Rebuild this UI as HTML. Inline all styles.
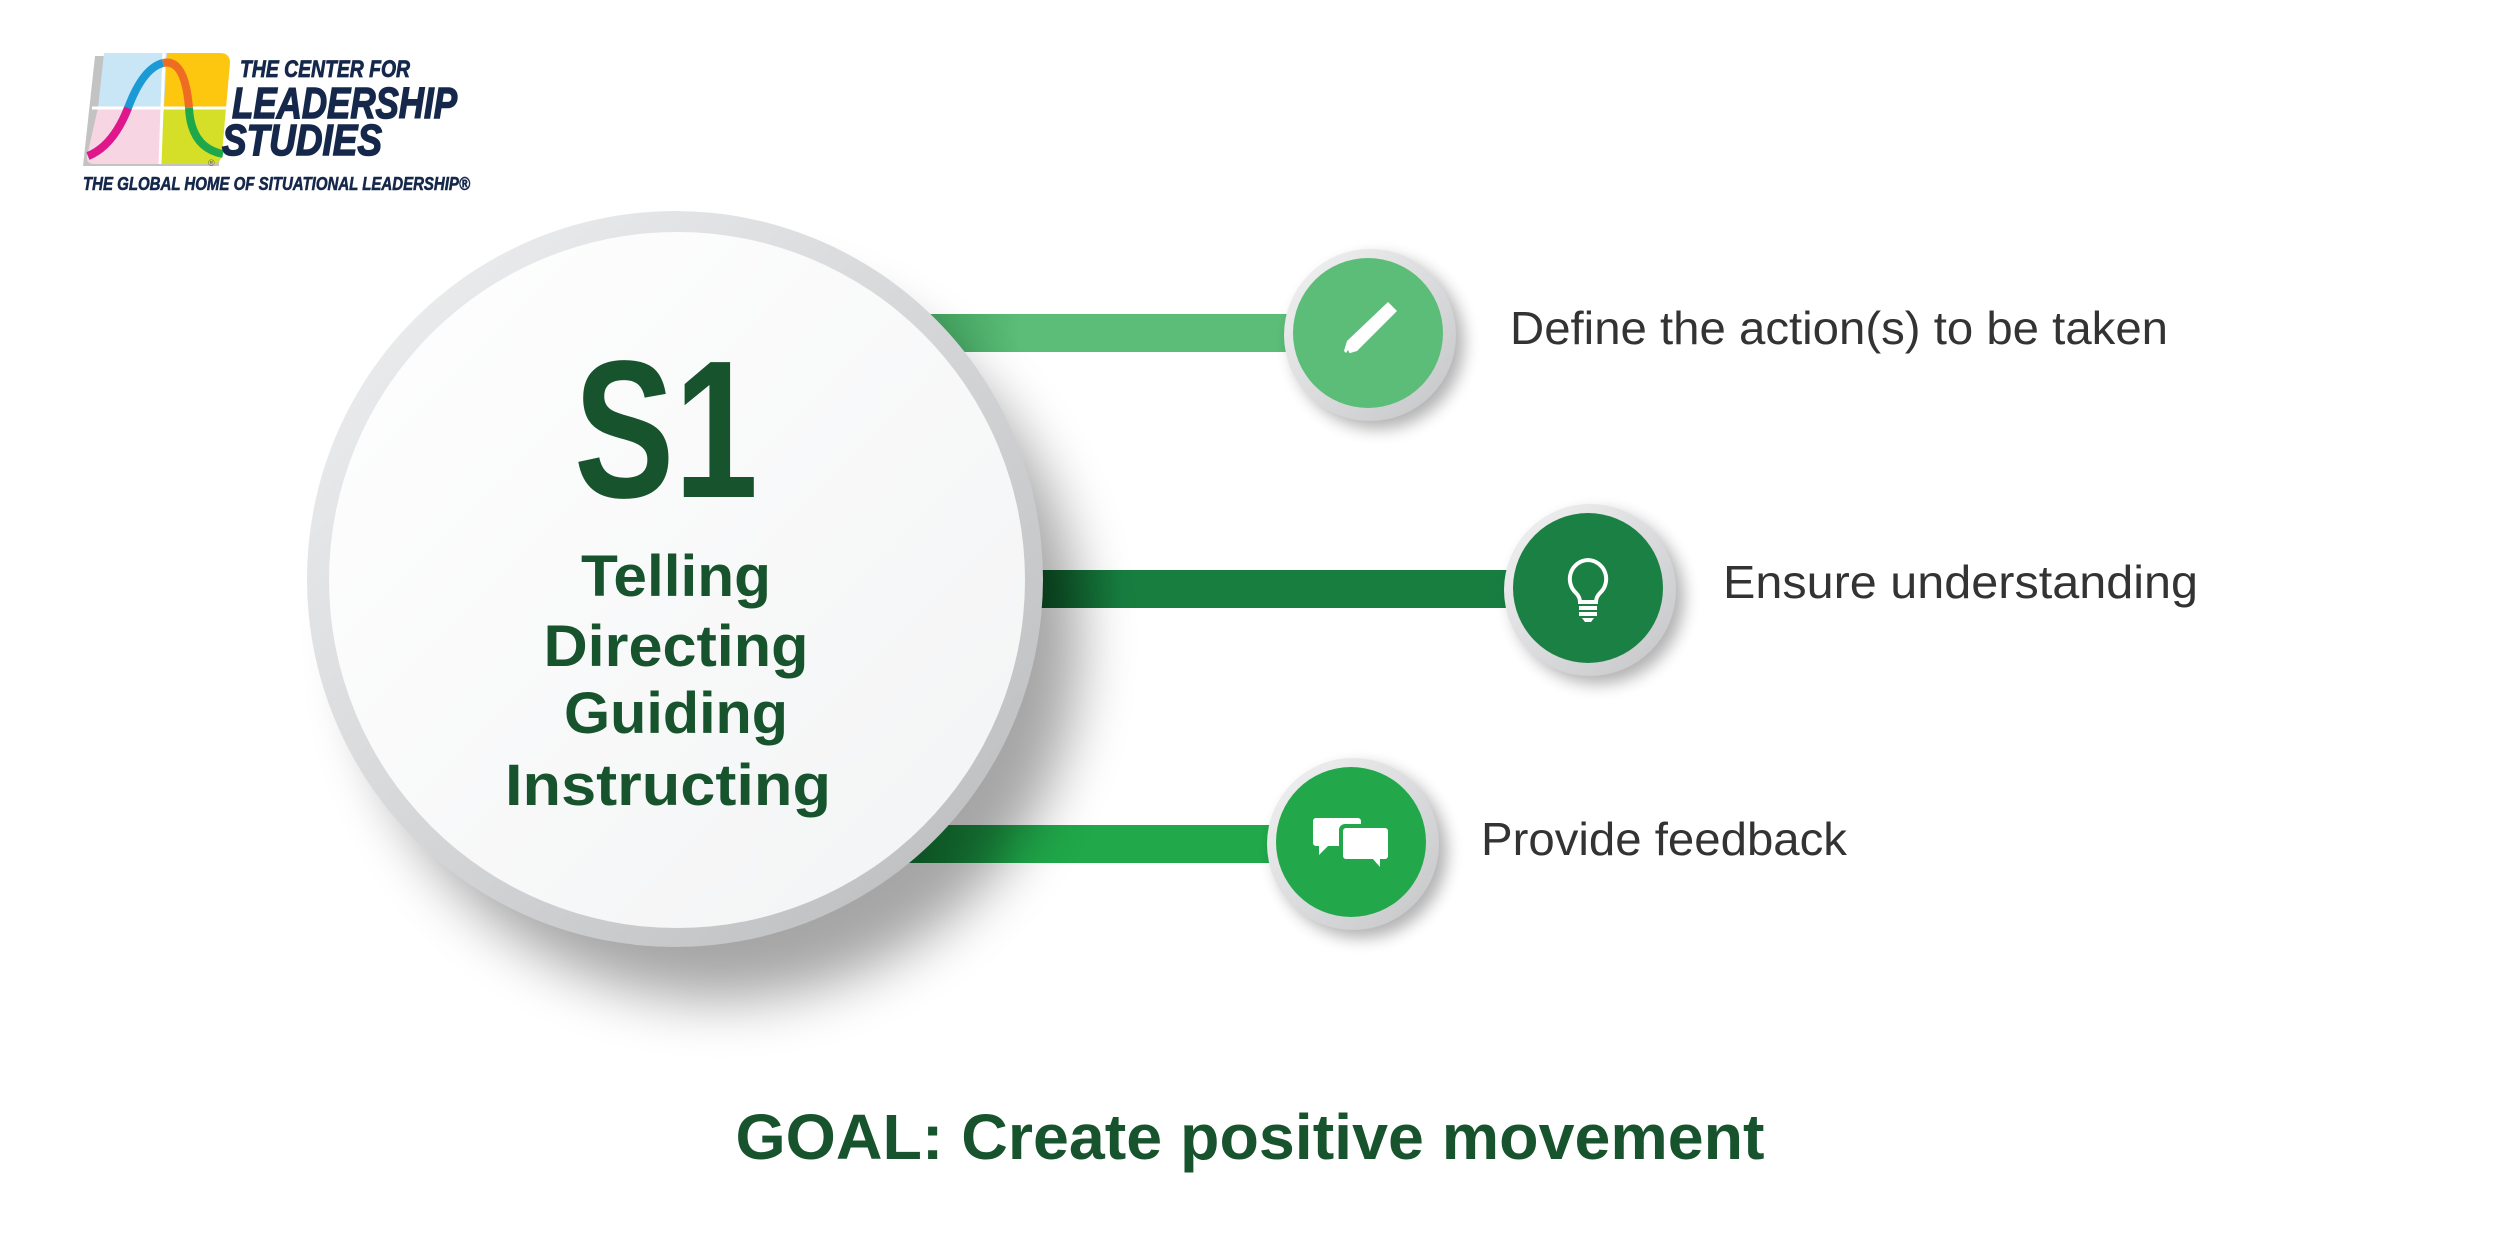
<!DOCTYPE html>
<html><head><meta charset="utf-8"><style>
html,body{margin:0;padding:0;background:#fff;width:2500px;height:1251px;overflow:hidden}
svg{display:block}
</style></head><body>
<svg width="2500" height="1251" viewBox="0 0 2500 1251" xmlns="http://www.w3.org/2000/svg">
<defs>
<filter id="bigsh" x="-30%" y="-30%" width="170%" height="170%">
<feGaussianBlur stdDeviation="28"/>
</filter>
<filter id="smsh" x="-40%" y="-40%" width="180%" height="180%">
<feGaussianBlur stdDeviation="8"/>
</filter>
<linearGradient id="ring" x1="0" y1="0" x2="1" y2="1">
<stop offset="0" stop-color="#f1f2f3"/><stop offset="1" stop-color="#b9babc"/>
</linearGradient>
<linearGradient id="inner" x1="0" y1="0" x2="1" y2="1">
<stop offset="0" stop-color="#ffffff"/><stop offset="1" stop-color="#f2f3f4"/>
</linearGradient>
<linearGradient id="b1" x1="0" x2="1"><stop offset="0" stop-color="#3f9e5c"/><stop offset="0.25" stop-color="#5bbd77"/><stop offset="1" stop-color="#5bbd77"/></linearGradient>
<linearGradient id="b2" x1="0" x2="1"><stop offset="0" stop-color="#0c4d22"/><stop offset="0.2" stop-color="#177e40"/><stop offset="1" stop-color="#177e40"/></linearGradient>
<linearGradient id="b3" x1="0" x2="1"><stop offset="0" stop-color="#137a36"/><stop offset="0.3" stop-color="#20a84a"/><stop offset="1" stop-color="#20a84a"/></linearGradient>
<linearGradient id="sring" x1="0" y1="0" x2="1" y2="1">
<stop offset="0" stop-color="#f3f3f4"/><stop offset="1" stop-color="#c4c5c7"/>
</linearGradient>
</defs>

<rect x="920" y="314" width="400" height="38" fill="url(#b1)"/>
<rect x="1020" y="570" width="520" height="38" fill="url(#b2)"/>
<rect x="900" y="825" width="400" height="38" fill="url(#b3)"/>

<circle cx="720" cy="640" r="360" fill="#000" opacity="0.35" filter="url(#bigsh)"/>
<circle cx="675" cy="579" r="368" fill="url(#ring)"/>
<circle cx="677" cy="580" r="348" fill="url(#inner)"/>

<g fill="#17542d" font-family="'Liberation Sans', sans-serif" font-weight="bold" text-anchor="middle">
<text x="666" y="497" font-size="196" textLength="184" lengthAdjust="spacingAndGlyphs">S1</text>
<text x="676" y="596" font-size="58" textLength="190" lengthAdjust="spacingAndGlyphs">Telling</text>
<text x="676" y="666" font-size="58" textLength="265" lengthAdjust="spacingAndGlyphs">Directing</text>
<text x="676" y="733" font-size="58" textLength="224" lengthAdjust="spacingAndGlyphs">Guiding</text>
<text x="668" y="805" font-size="58" textLength="326" lengthAdjust="spacingAndGlyphs">Instructing</text>
<text x="1250" y="1159" font-size="64" textLength="1029" lengthAdjust="spacingAndGlyphs">GOAL: Create positive movement</text>
</g>

<g>
<circle cx="1378" cy="343" r="86" fill="#000" opacity="0.3" filter="url(#smsh)"/>
<circle cx="1370" cy="335" r="86" fill="url(#sring)"/>
<circle cx="1368" cy="333" r="75" fill="#5cbd78"/>
<path d="M1388 302 l9 9 -40 40 -10 3 -3 -3 3 -10 z" fill="#fff"/>
<path d="M1348 350 l-4 6 6 -2 z" fill="#5cbd78"/>
</g>
<g>
<circle cx="1598" cy="598" r="86" fill="#000" opacity="0.3" filter="url(#smsh)"/>
<circle cx="1590" cy="590" r="86" fill="url(#sring)"/>
<circle cx="1588" cy="588" r="75" fill="#1a8043"/>
<path d="M1588 560 a19 19 0 0 0 -12 33 c3 3 4 6 4 9 h16 c0 -3 1 -6 4 -9 a19 19 0 0 0 -12 -33 z" fill="none" stroke="#fff" stroke-width="4"/>
<rect x="1579" y="606" width="18" height="4" fill="#fff"/>
<rect x="1579" y="612" width="18" height="4" fill="#fff"/>
<path d="M1582 618 h12 l-3 4 h-6 z" fill="#fff"/>
</g>
<g>
<circle cx="1361" cy="852" r="86" fill="#000" opacity="0.3" filter="url(#smsh)"/>
<circle cx="1353" cy="844" r="86" fill="url(#sring)"/>
<circle cx="1351" cy="842" r="75" fill="#22a84a"/>
<path d="M1316 818 h42 a3 3 0 0 1 3 3 v3 h-16 a6 6 0 0 0 -6 6 v16 h-11 l-9 9 v-9 h-3 a3 3 0 0 1 -3 -3 v-22 a3 3 0 0 1 3 -3 z" fill="#fff"/>
<rect x="1343" y="828" width="45" height="31" rx="3" fill="#fff"/>
<path d="M1372 858 l8 9 v-9 z" fill="#fff"/>
</g>

<g fill="#333" font-family="'Liberation Sans', sans-serif">
<text x="1510" y="344" font-size="46" textLength="658" lengthAdjust="spacingAndGlyphs">Define the action(s) to be taken</text>
<text x="1723" y="598" font-size="46" textLength="475" lengthAdjust="spacingAndGlyphs">Ensure understanding</text>
<text x="1481" y="855" font-size="46" textLength="366" lengthAdjust="spacingAndGlyphs">Provide feedback</text>
</g>

<g>
<path d="M98 53 h130 l-6 110 h-136 z" fill="#888" opacity="0.5" transform="translate(-3 3)"/>
<path d="M104 53 h63 l-3 55 h-66 z" fill="#c8e6f6"/>
<path d="M167 53 h53 q10 0 10 10 l-4 45 h-62 z" fill="#fdc710"/>
<path d="M98 108 h66 l-4 56 h-66 q-8 0 -7 -8 z" fill="#f8d5e2"/>
<path d="M164 108 h62 l-4 46 q-1 10 -10 10 h-52 z" fill="#d5df28"/>
<path d="M164 53 l-4 111" stroke="#fff" stroke-width="3"/>
<path d="M92 108 h136" stroke="#fff" stroke-width="3"/>
<path d="M88 156 q25 -10 40 -48 q15 -40 35 -45" fill="none" stroke="#1b9ad6" stroke-width="8"/>
<path d="M88 156 q25 -10 40 -48" fill="none" stroke="#e0168a" stroke-width="8"/>
<path d="M163 63 q22 -5 26 45" fill="none" stroke="#ef6c23" stroke-width="8"/>
<path d="M189 108 q2 40 34 46" fill="none" stroke="#1fa84a" stroke-width="8"/>
<g fill="#15284b" stroke="#15284b" font-family="'Liberation Sans', sans-serif" font-weight="bold" font-style="italic">
<text x="240" y="77" font-size="24" stroke-width="0.8" textLength="170" lengthAdjust="spacingAndGlyphs">THE CENTER FOR</text>
<text x="232" y="118" font-size="44" stroke-width="1.5" textLength="225" lengthAdjust="spacingAndGlyphs">LEADERSHIP</text>
<text x="222" y="155" font-size="44" stroke-width="1.5" textLength="160" lengthAdjust="spacingAndGlyphs">STUDIES</text>
<text x="83" y="190" font-size="18" stroke-width="0.6" textLength="387" lengthAdjust="spacingAndGlyphs">THE GLOBAL HOME OF SITUATIONAL LEADERSHIP®</text>
</g>
<text x="208" y="166" font-size="9" fill="#666" font-family="'Liberation Sans', sans-serif">®</text>
</g>
</svg>
</body></html>
